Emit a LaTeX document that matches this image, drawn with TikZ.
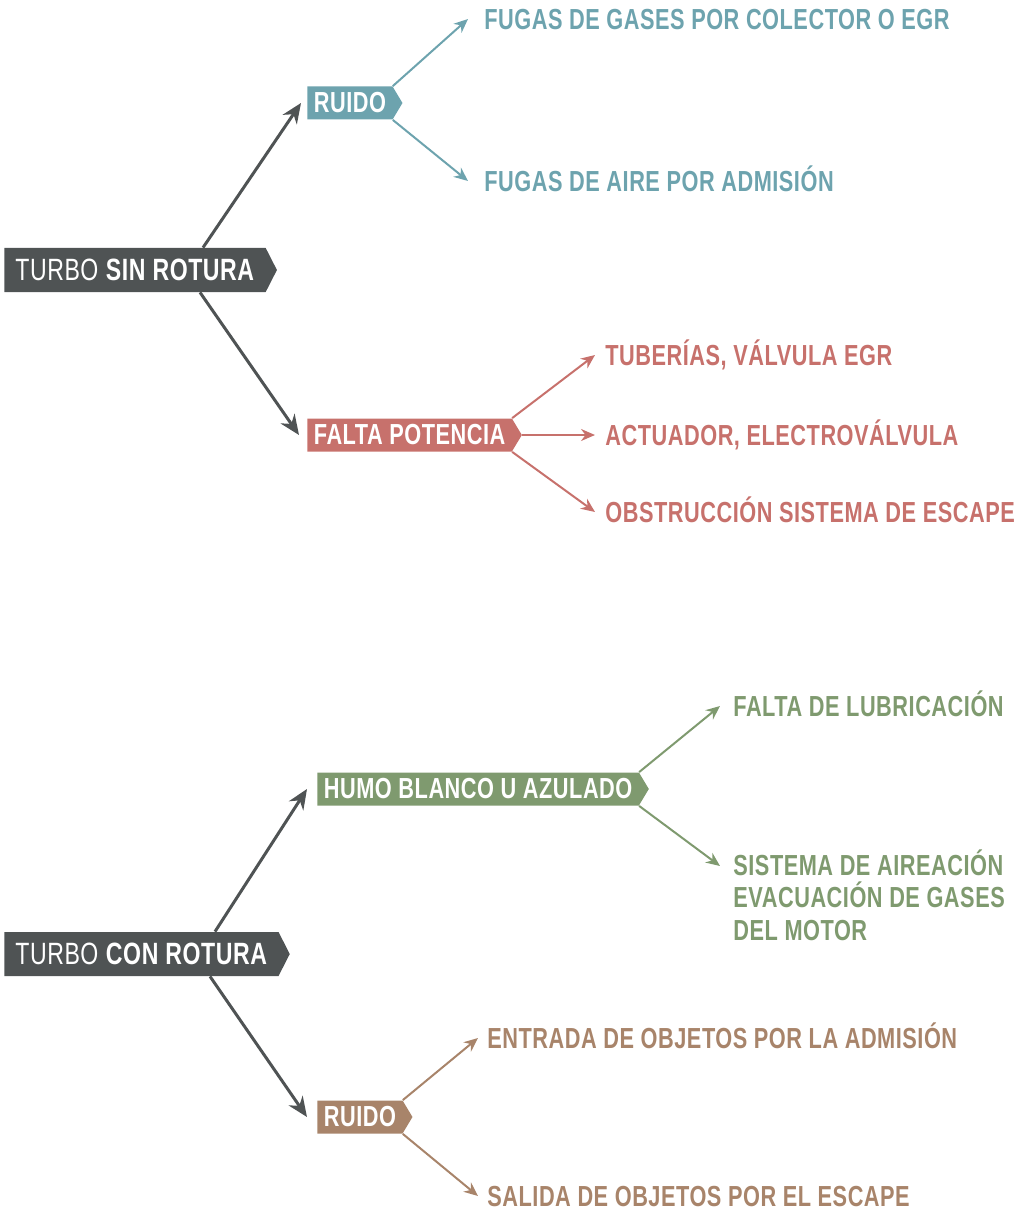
\documentclass[tikz,border=0pt]{standalone}
\usepackage{fontspec}
\setmainfont{Liberation Sans}[FakeStretch=0.75, LetterSpace=1.8]
\usetikzlibrary{shapes.symbols,arrows.meta}
\definecolor{turbogris}{HTML}{4F5354}
\definecolor{ruidoazul}{HTML}{6DA3AE}
\definecolor{potrojo}{HTML}{C7716C}
\definecolor{humoverde}{HTML}{7F9A6F}
\definecolor{ruidomarron}{HTML}{A8846A}
\tikzset{
  turbo/.style={signal, signal to=east, signal pointer angle=126, fill=turbogris, text=white, anchor=west,
    inner xsep=5.5pt, inner ysep=0pt, minimum height=22pt, font=\fontsize{15.4}{17}\selectfont},
  etiqueta/.style={signal, signal to=east, signal pointer angle=118, fill=#1, text=white, anchor=west,
    inner xsep=3.25pt, inner ysep=0pt, minimum height=16.5pt, font=\fontsize{14.5}{16}\selectfont\bfseries},
  causa/.style={anchor=west, inner sep=0pt, text height=10.4pt, text depth=0pt, text=#1,
    font=\fontsize{14.5}{16.25}\selectfont\bfseries},
  causas/.style={anchor=north west, inner sep=0pt, align=left, text=#1,
    font=\fontsize{14.5}{16.25}\selectfont\bfseries},
  flechagris/.style={draw=turbogris, line width=1.5pt, -{Stealth[length=10pt,width=8.5pt]}},
  flecha/.style={draw=#1, line width=1pt, -{Stealth[length=7pt,width=6pt]}},
}
\begin{document}
\begin{tikzpicture}[x=0.5pt, y=-0.5pt, line join=round]
\useasboundingbox (0,0) rectangle (1035,1209);
% turbo sin rotura
\node[turbo] (t1) at (4,270) {TURBO \textbf{SIN ROTURA}};
\node[etiqueta=ruidoazul] (r1) at (307,103) {RUIDO};
\node[etiqueta=potrojo] (f1) at (307,435) {FALTA POTENCIA};
\node[causa=ruidoazul] (g1) at (484,19) {FUGAS DE GASES POR COLECTOR O EGR};
\node[causa=ruidoazul] (g2) at (484,181) {FUGAS DE AIRE POR ADMISIÓN};
\node[causa=potrojo] (p1) at (605,355) {TUBERÍAS, VÁLVULA EGR};
\node[causa=potrojo] (p2) at (605,435) {ACTUADOR, ELECTROVÁLVULA};
\node[causa=potrojo] (p3) at (605,512) {OBSTRUCCIÓN SISTEMA DE ESCAPE};
\draw[flechagris] ([xshift=99.5pt]t1.north west) -- ([xshift=-3pt]r1.west);
\draw[flechagris] ([xshift=98pt]t1.south west) -- ([xshift=-4pt]f1.west);
\draw[flecha=ruidoazul]
  (r1.north east) -- ([xshift=-8pt]g1.west);
\draw[flecha=ruidoazul]
  (r1.south east) -- ([xshift=-8pt]g2.west);
\draw[flecha=potrojo] (f1.north east) -- ([xshift=-5pt]p1.west);
\draw[flecha=potrojo] (f1.east) -- ([xshift=-5pt]p2.west);
\draw[flecha=potrojo] (f1.south east) -- ([xshift=-5pt]p3.west);
% turbo con rotura
\node[turbo] (t2) at (4,954) {TURBO \textbf{CON ROTURA}};
\node[etiqueta=humoverde] (h0) at (317,789) {HUMO BLANCO U AZULADO};
\node[etiqueta=ruidomarron] (r2) at (317,1117) {RUIDO};
\node[causa=humoverde] (h1) at (733,706) {FALTA DE LUBRICACIÓN};
\node[causas=humoverde] (h2) at (733,849) {SISTEMA DE AIREACIÓN\\EVACUACIÓN DE GASES\\DEL MOTOR};
\node[causa=ruidomarron] (b1) at (487,1038) {ENTRADA DE OBJETOS POR LA ADMISIÓN};
\node[causa=ruidomarron] (b2) at (487,1196) {SALIDA DE OBJETOS POR EL ESCAPE};
\draw[flechagris] ([xshift=105.5pt]t2.north west) -- ([xshift=-5pt]h0.west);
\draw[flechagris] ([xshift=103pt]t2.south west) -- ([xshift=-5pt]r2.west);
\draw[flecha=humoverde] (h0.north east) -- ([xshift=-6.5pt]h1.west);
\draw[flecha=humoverde] (h0.south east) -- ([xshift=-6.5pt,yshift=-8.5pt]h2.north west);
\draw[flecha=ruidomarron] (r2.north east) -- ([xshift=-4.5pt]b1.west);
\draw[flecha=ruidomarron] (r2.south east) -- ([xshift=-4.5pt]b2.west);
\end{tikzpicture}
\end{document}
